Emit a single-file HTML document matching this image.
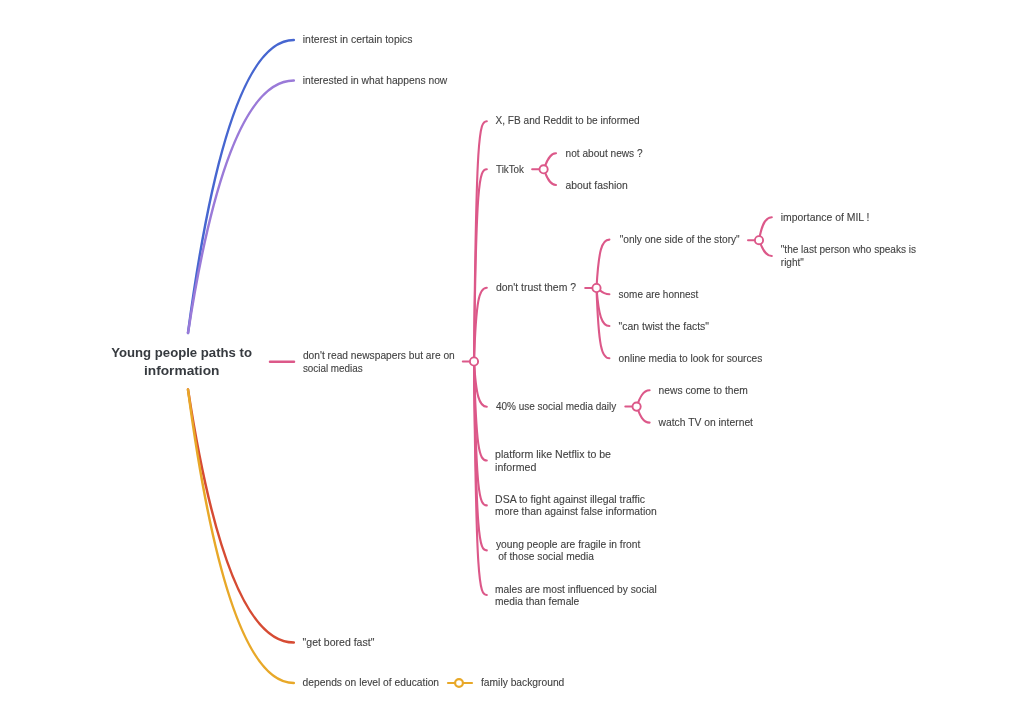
<!DOCTYPE html>
<html><head><meta charset="utf-8"><title>Young people paths to information</title>
<style>
html,body{margin:0;padding:0;background:#fff;}
body{width:1024px;height:724px;overflow:hidden;}
svg{display:block;will-change:transform;font-family:"Liberation Sans",sans-serif;}
</style></head><body>
<svg width="1024" height="724" viewBox="0 0 1024 724">
<rect width="1024" height="724" fill="#fff"/>
<g fill="none" stroke-linecap="round">
<path d="M188 333Q227 40 293.8 40" stroke="#4666D0" stroke-width="2.5"/>
<path d="M188 333Q227 80.5 293.8 80.5" stroke="#9A7AD8" stroke-width="2.5"/>
<path d="M188 389.5Q227 642.6 293.8 642.6" stroke="#D64B33" stroke-width="2.5"/>
<path d="M188 389.5Q227 683 293.8 683" stroke="#E8A828" stroke-width="2.5"/>
<path d="M270 361.7L294 361.7" stroke="#DC5889" stroke-width="2.5"/>
<path d="M474 361.5C476.11 132.27 479.17 121.20 486.8 121.2" stroke="#DC5889" stroke-width="2.1"/>
<path d="M474 361.5C476.11 180.37 479.17 169.30 486.8 169.3" stroke="#DC5889" stroke-width="2.1"/>
<path d="M474 361.5C476.11 298.87 479.17 287.80 486.8 287.8" stroke="#DC5889" stroke-width="2.1"/>
<path d="M474 361.5C476.11 395.63 479.17 406.70 486.8 406.7" stroke="#DC5889" stroke-width="2.1"/>
<path d="M474 361.5C476.11 449.43 479.17 460.50 486.8 460.5" stroke="#DC5889" stroke-width="2.1"/>
<path d="M474 361.5C476.11 494.33 479.17 505.40 486.8 505.4" stroke="#DC5889" stroke-width="2.1"/>
<path d="M474 361.5C476.11 539.33 479.17 550.40 486.8 550.4" stroke="#DC5889" stroke-width="2.1"/>
<path d="M474 361.5C476.11 583.93 479.17 595.00 486.8 595" stroke="#DC5889" stroke-width="2.1"/>
<path d="M462.8 361.5L474 361.5" stroke="#DC5889" stroke-width="2.0"/>
<path d="M532.1 169.3L543.6 169.3" stroke="#DC5889" stroke-width="2.0"/>
<path d="M543.6 169.3C545.71 164.37 548.77 153.30 556 153.3" stroke="#DC5889" stroke-width="2.1"/>
<path d="M543.6 169.3C545.71 173.93 548.77 185.00 556 185" stroke="#DC5889" stroke-width="2.1"/>
<path d="M585.2 288L596.5 288" stroke="#DC5889" stroke-width="2.0"/>
<path d="M596.5 288C598.61 250.67 601.67 239.60 609.4 239.6" stroke="#DC5889" stroke-width="2.1"/>
<path d="M596.5 288C598.61 288.00 601.67 294.20 609.4 294.2" stroke="#DC5889" stroke-width="2.1"/>
<path d="M596.5 288C598.61 314.93 601.67 326.00 609.4 326" stroke="#DC5889" stroke-width="2.1"/>
<path d="M596.5 288C598.61 347.23 601.67 358.30 609.4 358.3" stroke="#DC5889" stroke-width="2.1"/>
<path d="M748 240.2L759 240.2" stroke="#DC5889" stroke-width="2.0"/>
<path d="M759 240.2C761.11 228.27 764.17 217.20 771.8 217.2" stroke="#DC5889" stroke-width="2.1"/>
<path d="M759 240.2C761.11 244.93 764.17 256.00 771.8 256" stroke="#DC5889" stroke-width="2.1"/>
<path d="M625.3 406.6L636.6 406.6" stroke="#DC5889" stroke-width="2.0"/>
<path d="M636.6 406.6C638.71 401.37 641.77 390.30 649.6 390.3" stroke="#DC5889" stroke-width="2.1"/>
<path d="M636.6 406.6C638.71 411.53 641.77 422.60 649.6 422.6" stroke="#DC5889" stroke-width="2.1"/>
<path d="M448 683L472 683" stroke="#E8A828" stroke-width="2.2"/>
</g>
<circle cx="474" cy="361.5" r="4.1" fill="#fff" stroke="#DC5889" stroke-width="1.9"/>
<circle cx="543.6" cy="169.3" r="4.1" fill="#fff" stroke="#DC5889" stroke-width="1.9"/>
<circle cx="596.5" cy="288" r="4.1" fill="#fff" stroke="#DC5889" stroke-width="1.9"/>
<circle cx="759" cy="240.2" r="4.1" fill="#fff" stroke="#DC5889" stroke-width="1.9"/>
<circle cx="636.6" cy="406.6" r="4.1" fill="#fff" stroke="#DC5889" stroke-width="1.9"/>
<circle cx="459" cy="683" r="3.9" fill="#fff" stroke="#E8A828" stroke-width="2.2"/>
<g>
<text x="302.8" y="43" font-size="10" fill="#424242" stroke="#424242" stroke-width="0.1" textLength="109.7" lengthAdjust="spacingAndGlyphs" xml:space="preserve">interest in certain topics</text>
<text x="302.8" y="84" font-size="10" fill="#424242" stroke="#424242" stroke-width="0.1" textLength="144.5" lengthAdjust="spacingAndGlyphs" xml:space="preserve">interested in what happens now</text>
<text x="111.2" y="357" font-size="13.3" font-weight="bold" fill="#363a3f" textLength="140.8" lengthAdjust="spacingAndGlyphs" xml:space="preserve">Young people paths to</text>
<text x="144.0" y="375" font-size="13.3" font-weight="bold" fill="#363a3f" textLength="75.4" lengthAdjust="spacingAndGlyphs" xml:space="preserve">information</text>
<text x="302.9" y="359" font-size="10" fill="#424242" stroke="#424242" stroke-width="0.1" textLength="151.9" lengthAdjust="spacingAndGlyphs" xml:space="preserve">don't read newspapers but are on</text>
<text x="302.9" y="372" font-size="10" fill="#424242" stroke="#424242" stroke-width="0.1" textLength="59.8" lengthAdjust="spacingAndGlyphs" xml:space="preserve">social medias</text>
<text x="495.5" y="124" font-size="10" fill="#424242" stroke="#424242" stroke-width="0.1" textLength="144.2" lengthAdjust="spacingAndGlyphs" xml:space="preserve">X, FB and Reddit to be informed</text>
<text x="496" y="173" font-size="10" fill="#424242" stroke="#424242" stroke-width="0.1" textLength="28.0" lengthAdjust="spacingAndGlyphs" xml:space="preserve">TikTok</text>
<text x="565.5" y="157" font-size="10" fill="#424242" stroke="#424242" stroke-width="0.1" textLength="77.1" lengthAdjust="spacingAndGlyphs" xml:space="preserve">not about news ?</text>
<text x="565.5" y="189" font-size="10" fill="#424242" stroke="#424242" stroke-width="0.1" textLength="62.3" lengthAdjust="spacingAndGlyphs" xml:space="preserve">about fashion</text>
<text x="495.9" y="291" font-size="10" fill="#424242" stroke="#424242" stroke-width="0.1" textLength="80.1" lengthAdjust="spacingAndGlyphs" xml:space="preserve">don't trust them ?</text>
<text x="619.7" y="243" font-size="10" fill="#424242" stroke="#424242" stroke-width="0.1" textLength="120.0" lengthAdjust="spacingAndGlyphs" xml:space="preserve">"only one side of the story"</text>
<text x="780.8" y="221" font-size="10" fill="#424242" stroke="#424242" stroke-width="0.1" textLength="88.7" lengthAdjust="spacingAndGlyphs" xml:space="preserve">importance of MIL !</text>
<text x="780.8" y="253" font-size="10" fill="#424242" stroke="#424242" stroke-width="0.1" textLength="135.2" lengthAdjust="spacingAndGlyphs" xml:space="preserve">"the last person who speaks is</text>
<text x="780.8" y="266" font-size="10" fill="#424242" stroke="#424242" stroke-width="0.1" xml:space="preserve">right"</text>
<text x="618.6" y="298" font-size="10" fill="#424242" stroke="#424242" stroke-width="0.1" textLength="79.7" lengthAdjust="spacingAndGlyphs" xml:space="preserve">some are honnest</text>
<text x="618.6" y="330" font-size="10" fill="#424242" stroke="#424242" stroke-width="0.1" textLength="90.4" lengthAdjust="spacingAndGlyphs" xml:space="preserve">"can twist the facts"</text>
<text x="618.6" y="362" font-size="10" fill="#424242" stroke="#424242" stroke-width="0.1" textLength="143.7" lengthAdjust="spacingAndGlyphs" xml:space="preserve">online media to look for sources</text>
<text x="495.9" y="410" font-size="10" fill="#424242" stroke="#424242" stroke-width="0.1" textLength="120.4" lengthAdjust="spacingAndGlyphs" xml:space="preserve">40% use social media daily</text>
<text x="658.5" y="394" font-size="10" fill="#424242" stroke="#424242" stroke-width="0.1" textLength="89.3" lengthAdjust="spacingAndGlyphs" xml:space="preserve">news come to them</text>
<text x="658.5" y="426" font-size="10" fill="#424242" stroke="#424242" stroke-width="0.1" textLength="94.5" lengthAdjust="spacingAndGlyphs" xml:space="preserve">watch TV on internet</text>
<text x="495.1" y="458" font-size="10" fill="#424242" stroke="#424242" stroke-width="0.1" textLength="115.9" lengthAdjust="spacingAndGlyphs" xml:space="preserve">platform like Netflix to be</text>
<text x="495.1" y="471" font-size="10" fill="#424242" stroke="#424242" stroke-width="0.1" textLength="41.2" lengthAdjust="spacingAndGlyphs" xml:space="preserve">informed</text>
<text x="495.1" y="503" font-size="10" fill="#424242" stroke="#424242" stroke-width="0.1" textLength="149.9" lengthAdjust="spacingAndGlyphs" xml:space="preserve">DSA to fight against illegal traffic</text>
<text x="495.1" y="515" font-size="10" fill="#424242" stroke="#424242" stroke-width="0.1" textLength="161.7" lengthAdjust="spacingAndGlyphs" xml:space="preserve">more than against false information</text>
<text x="495.9" y="548" font-size="10" fill="#424242" stroke="#424242" stroke-width="0.1" textLength="144.5" lengthAdjust="spacingAndGlyphs" xml:space="preserve">young people are fragile in front</text>
<text x="498.2" y="560" font-size="10" fill="#424242" stroke="#424242" stroke-width="0.1" textLength="95.8" lengthAdjust="spacingAndGlyphs" xml:space="preserve">of those social media</text>
<text x="495.1" y="593" font-size="10" fill="#424242" stroke="#424242" stroke-width="0.1" textLength="161.7" lengthAdjust="spacingAndGlyphs" xml:space="preserve">males are most influenced by social</text>
<text x="495.1" y="605" font-size="10" fill="#424242" stroke="#424242" stroke-width="0.1" textLength="84.2" lengthAdjust="spacingAndGlyphs" xml:space="preserve">media than female</text>
<text x="302.6" y="646" font-size="10" fill="#424242" stroke="#424242" stroke-width="0.1" textLength="71.8" lengthAdjust="spacingAndGlyphs" xml:space="preserve">"get bored fast"</text>
<text x="302.6" y="686" font-size="10" fill="#424242" stroke="#424242" stroke-width="0.1" textLength="136.5" lengthAdjust="spacingAndGlyphs" xml:space="preserve">depends on level of education</text>
<text x="481" y="686" font-size="10" fill="#424242" stroke="#424242" stroke-width="0.1" textLength="83.3" lengthAdjust="spacingAndGlyphs" xml:space="preserve">family background</text>
</g>
</svg>
</body></html>
